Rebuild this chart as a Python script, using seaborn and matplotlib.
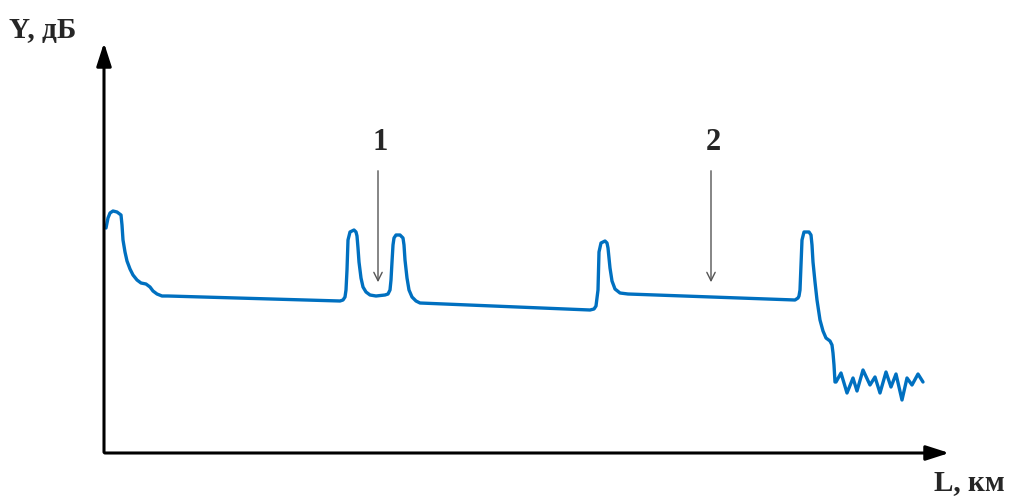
import matplotlib.pyplot as plt
import seaborn as sns
import pandas as pd

# Trace (x along the fibre, y = level, screen units, y grows downward)
dist = [106, 108, 110, 113, 117, 121, 122, 123, 125, 127, 130, 133, 137, 141, 146, 150, 153, 157, 162, 168,
        340, 343, 345, 346, 347, 348, 350, 354, 356, 357, 358, 359, 361, 363, 366, 370, 376, 385, 388, 390,
        391, 392, 393, 394, 396, 400, 403, 404, 405, 407, 409, 412, 416, 420,
        590, 594, 596, 598, 599, 601, 605, 607, 608, 609, 610, 612, 615, 620, 628,
        795, 798, 799, 800, 801, 802, 804, 809, 811, 812, 813, 815, 817, 820, 823, 826, 830, 832, 833, 834, 835,
        836, 841, 847, 853, 857, 863, 870, 875, 880, 886, 891, 896, 902, 907, 912, 918, 923]
level = [228, 218, 213, 211, 212, 215, 225, 240, 252, 261, 269, 275, 280, 283, 284, 287, 291, 294, 296, 296,
         301, 300, 297, 290, 270, 240, 232, 230, 232, 236, 248, 262, 278, 287, 292, 295, 296, 295, 294, 290,
         280, 262, 245, 238, 235, 235, 238, 245, 260, 278, 290, 297, 301, 303,
         310, 309, 306, 290, 252, 243, 241, 243, 248, 258, 268, 281, 289, 293, 294,
         300, 298, 296, 290, 265, 240, 232, 232, 235, 245, 262, 282, 300, 320, 331, 338, 341, 345, 353, 365, 382,
         382, 373, 393, 378, 391, 370, 385, 377, 393, 372, 387, 374, 400, 378, 385, 374, 382]

event_x = [378, 711]
event_labels = ['1', '2']

df = pd.DataFrame({'L': dist, 'Y': level})

sns.set_style('white')
plt.rcParams['font.family'] = ['Liberation Serif', 'DejaVu Serif']

fig = plt.figure(figsize=(10.13, 4.98), dpi=100)
ax = fig.add_axes([0, 0, 1, 1])
ax.set_xlim(0, 1013)
ax.set_ylim(498, 0)
ax.axis('off')

sns.lineplot(data=df, x='L', y='Y', sort=False, color='#0070C0', linewidth=2.4,
             solid_joinstyle='round', solid_capstyle='round', ax=ax)

# axes with arrowheads
ax.annotate('', xy=(104, 40), xytext=(104, 455),
            arrowprops=dict(arrowstyle='-|>,head_length=1.4,head_width=0.45', color='black', lw=2.2))
ax.annotate('', xy=(952, 453), xytext=(102, 453),
            arrowprops=dict(arrowstyle='-|>,head_length=1.4,head_width=0.45', color='black', lw=2.2))
ax.text(9, 30, 'Y, дБ', fontsize=21, fontweight='bold', va='center', ha='left')
ax.text(934, 483, 'L, км', fontsize=21, fontweight='bold', va='center', ha='left')

# event markers
for x, lab in zip(event_x, event_labels):
    ax.annotate('', xy=(x, 285), xytext=(x, 168),
                arrowprops=dict(arrowstyle='->,head_length=0.6,head_width=0.3', color='#555555', lw=1.0))
    ax.text(x + 2, 142, lab, fontsize=22, fontweight='bold', ha='center', va='center')

fig.savefig('out.png', dpi=100)
